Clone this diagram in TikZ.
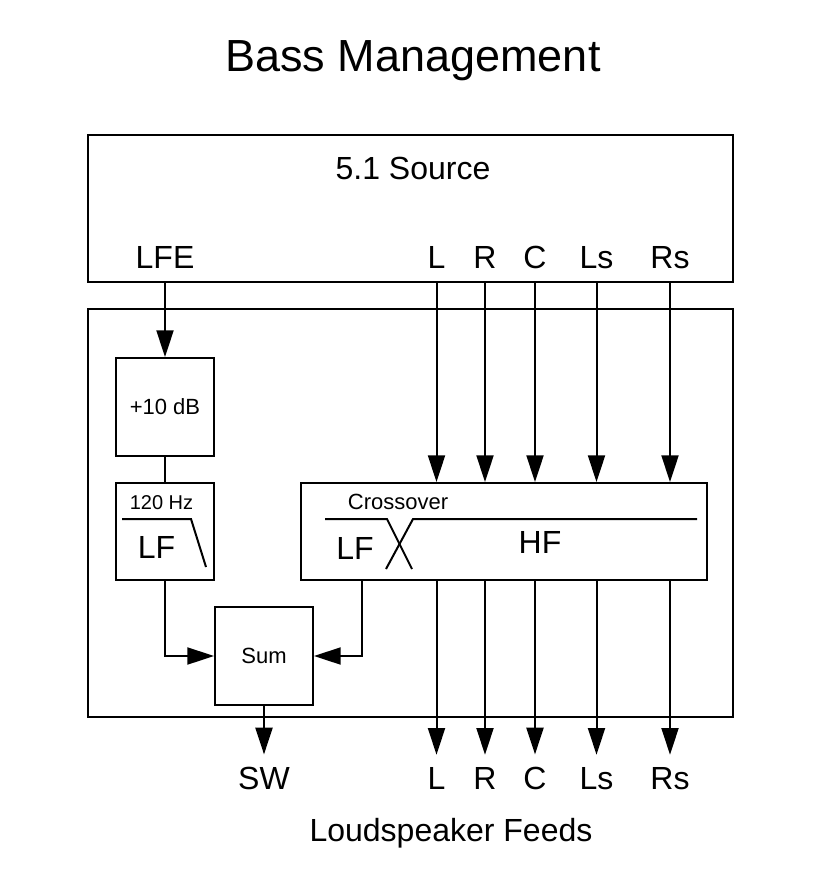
\documentclass[tikz,border=0pt]{standalone}
\usepackage{fontspec}
\setmainfont{Liberation Sans}
\usetikzlibrary{arrows.meta}
\tikzset{
	block/.style={draw, line width=1.5pt, inner sep=0pt},
	big/.style={font=\fontsize{24}{24}\selectfont, anchor=base, inner sep=0pt},
	small/.style={font=\fontsize{16.5}{17}\selectfont, inner sep=0pt},
	wire/.style={line width=1.5pt},
	feed/.style={wire, -{Triangle[length=20pt,width=12.75pt]}}
}
\begin{document}
\begin{tikzpicture}[x=0.75pt,y=-0.75pt]
	\useasboundingbox (0,0) rectangle (828,888);
	\node[font=\fontsize{33.75}{34}\selectfont, anchor=base, inner sep=0pt] (title) at (413,71.5) {Bass Management};
	\node[block, minimum width=483.75pt, minimum height=110.25pt] (src) at (410.5,208.5) {};
	\node[block, minimum width=483.75pt, minimum height=306pt] (bm) at (410.5,513) {};
	\node[big] (srcname) at (413,180) {5.1 Source};
	\node[big] (inLFE) at (165,268) {LFE};
	\node[big] (inL) at (436.5,268) {L};
	\node[big] (inR) at (485,268) {R};
	\node[big] (inC) at (535,268) {C};
	\node[big] (inLs) at (596.5,268) {Ls};
	\node[big] (inRs) at (670,268) {Rs};
	\node[block, small, minimum width=73.5pt, minimum height=73.5pt] (gain) at (165,407) {+10 dB};
	\node[block, minimum width=73.5pt, minimum height=72.75pt] (lpf) at (165,531.5) {};
	\node[block, minimum width=304.5pt, minimum height=72.75pt] (xover) at (504,531.5) {};
	\node[block, small, minimum width=73.5pt, minimum height=73.5pt] (sum) at (264,656) {Sum};
	\node[font=\fontsize{15}{15}\selectfont, anchor=base, inner sep=0pt] (hz) at (161.5,509) {120 Hz};
	\node[big] (lpflf) at (156.5,558) {LF};
	\node[small, anchor=base] (xname) at (398,509) {Crossover};
	\node[big] (xlfname) at (355,559) {LF};
	\node[big] (xhfname) at (540,553.5) {HF};
	\draw[wire] (122,519) -- (191,519) -- (206,567);
	\draw[wire] (325,519) -- (387,519) -- (412,569);
	\draw[wire] (386,569) -- (413,519) -- (697,519);
	\node[big] (outSW) at (264,789) {SW};
	\node[big] (outL) at (436.5,789) {L};
	\node[big] (outR) at (485,789) {R};
	\node[big] (outC) at (535,789) {C};
	\node[big] (outLs) at (596.5,789) {Ls};
	\node[big] (outRs) at (670,789) {Rs};
	\node[big] (feeds) at (451,841) {Loudspeaker Feeds};
	\draw[feed] (src.south -| inLFE) -- (gain.north);
	\foreach \ch in {L,R,C,Ls,Rs}
		\draw[feed] (src.south -| in\ch) -- (xover.north -| in\ch);
	\foreach \ch in {L,R,C,Ls,Rs}
		\draw[feed, shorten >=9pt] (xover.south -| out\ch) -- (out\ch.north);
	\draw[wire] (gain) -- (lpf);
	\draw[feed] (lpf.south) |- (sum.west);
	\coordinate (xlf) at ([xshift=46.5pt]xover.south west);
	\draw[feed] (xlf) |- (sum.east);
	\draw[feed, shorten >=9pt] (sum.south) -- (outSW.north);
\end{tikzpicture}
\end{document}
